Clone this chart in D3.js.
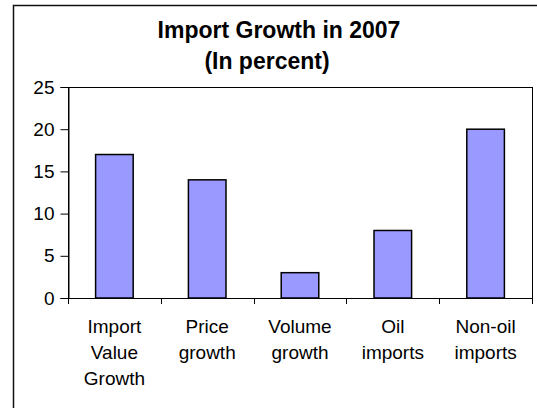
<!DOCTYPE html>
<html>
<head>
<meta charset="utf-8">
<script src="https://cdn.jsdelivr.net/npm/d3@7"></script>
<style>
  html, body { margin: 0; padding: 0; background: #fff; }
  svg { display: block; }
  text { font-family: "Liberation Sans", Arial, sans-serif; fill: #000; }
</style>
</head>
<body>
<svg id="chart" width="537" height="408"></svg>
<script>
const categories = [["Import", "Value", "Growth"], ["Price", "growth"], ["Volume", "growth"], ["Oil", "imports"], ["Non-oil", "imports"]];
const values = [17, 14, 3, 8, 20];
const yTicks = [0, 5, 10, 15, 20, 25];
const titleLines = ["Import Growth in 2007", "(In percent)"];

const svg = d3.select("#chart");
const W = 537, H = 408;
const m = { left: 68, right: 5, top: 87, bottom: 110 };
const x0 = m.left, x1 = W - m.right, y0 = H - m.bottom, y1 = m.top;

// outer frame (clipped at right/bottom)
svg.append("rect")
  .attr("x", 13.5).attr("y", 5.5)
  .attr("width", W).attr("height", H)
  .attr("fill", "none").attr("stroke", "#111").attr("stroke-width", 1.5);

// title
const titleX = [279, 267];
svg.append("g").selectAll("text").data(titleLines).join("text")
  .attr("x", (d, i) => titleX[i])
  .attr("y", (d, i) => 38 + i * 30.5)
  .attr("text-anchor", "middle")
  .attr("font-size", 23)
  .attr("font-weight", "bold")
  .text(d => d);

const idx = d3.range(values.length);
const x = d3.scaleBand().domain(idx).range([x0, x1]).paddingInner(0).paddingOuter(0);
const y = d3.scaleLinear().domain([0, 25]).range([y0, y1]);

// plot area border
svg.append("rect")
  .attr("x", x0 + 0.5).attr("y", y1 + 0.5)
  .attr("width", x1 - x0).attr("height", y0 - y1)
  .attr("fill", "#fff").attr("stroke", "#000").attr("stroke-width", 1);

// bars
const bw = x.bandwidth() * 0.405;
svg.append("g").selectAll("rect").data(values).join("rect")
  .attr("x", (d, i) => x(i) + (x.bandwidth() - bw) / 2)
  .attr("y", d => y(d))
  .attr("width", bw)
  .attr("height", d => y(0) - y(d))
  .attr("fill", "#9999FF")
  .attr("stroke", "#000")
  .attr("stroke-width", 1.5);

// y axis
const yAxis = d3.axisLeft(y).tickValues(yTicks).tickSize(8).tickPadding(6).tickFormat(d3.format("d"));
const gy = svg.append("g").attr("transform", `translate(${x0 + 0.5},0)`).call(yAxis);
gy.select(".domain").attr("stroke", "#000");
gy.selectAll(".tick line").attr("stroke", "#000");
gy.selectAll(".tick text").attr("font-size", 19).attr("font-family", "Liberation Sans, Arial, sans-serif").attr("fill", "#000");

// x axis with ticks at category boundaries
const bounds = d3.range(values.length + 1).map(i => x0 + i * x.bandwidth());
const gx = svg.append("g");
gx.append("line").attr("x1", x0).attr("x2", x1).attr("y1", y0 + 0.5).attr("y2", y0 + 0.5).attr("stroke", "#000");
gx.selectAll("line.t").data(bounds).join("line").attr("class", "t")
  .attr("x1", d => Math.round(d) + 0.5).attr("x2", d => Math.round(d) + 0.5)
  .attr("y1", y0).attr("y2", y0 + 6).attr("stroke", "#000");

// category labels
const lab = svg.append("g").selectAll("text").data(categories).join("text")
  .attr("text-anchor", "middle")
  .attr("font-size", 19)
  .attr("transform", (d, i) => `translate(${x(i) + x.bandwidth() / 2},0)`);
lab.selectAll("tspan").data(d => d).join("tspan")
  .attr("x", 0)
  .attr("y", (d, j) => 333 + j * 26)
  .text(d => d);
</script>
</body>
</html>
